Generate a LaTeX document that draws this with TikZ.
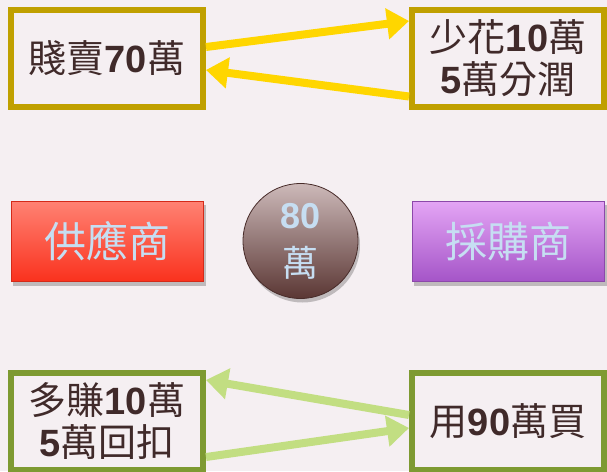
\documentclass[tikz,border=0pt]{standalone}
\usepackage{fontspec}
\setmainfont{Liberation Sans}
\newfontfamily\cjk{Noto Sans CJK TC}
\usetikzlibrary{arrows.meta, backgrounds}
\definecolor{bgColor}{RGB}{245,239,242}
\definecolor{inkColor}{RGB}{64,42,42}
\definecolor{paleBlue}{RGB}{198,222,242}
\definecolor{goldColor}{RGB}{192,160,0}
\definecolor{yellowColor}{RGB}{255,214,0}
\definecolor{oliveColor}{RGB}{126,154,50}
\definecolor{limeColor}{RGB}{194,222,130}
\definecolor{redTop}{RGB}{255,130,115}
\definecolor{redBottom}{RGB}{250,50,30}
\definecolor{purpleTop}{RGB}{228,165,245}
\definecolor{purpleBottom}{RGB}{165,85,200}
\definecolor{coinTop}{RGB}{205,185,185}
\definecolor{coinBottom}{RGB}{90,55,52}
\newcommand{\amt}[1]{{\rmfamily\bfseries #1}}

\begin{document}
\begin{tikzpicture}[x=1pt, y=-1pt,
    note/.style={
        rectangle,
        draw=#1,
        fill=bgColor,
        line width=6pt,
        minimum width=192pt,
        minimum height=97pt,
        inner sep=0pt,
        align=center,
        text=inkColor,
        font=\fontsize{38}{42}\selectfont\cjk
    },
    party/.style 2 args={
        rectangle,
        draw=#2!85!black,
        top color=#1,
        bottom color=#2,
        line width=1pt,
        minimum width=192pt,
        minimum height=80pt,
        text=paleBlue,
        font=\fontsize{42}{46}\selectfont\cjk
    },
    coin/.style={
        circle,
        draw=coinBottom!80!black,
        top color=coinTop,
        bottom color=coinBottom,
        line width=0.8pt,
        minimum size=115pt,
        inner sep=0pt,
        align=center,
        text=paleBlue,
        font=\fontsize{36}{48}\selectfont
    },
    shade/.style={fill=black, opacity=0.22},
    flow/.style={-{Triangle[length=22pt, width=30pt]}, line width=8pt, draw=#1}
]
    \useasboundingbox (0,0) rectangle (607,471);
    \begin{scope}[on background layer]
        \fill[bgColor] (0,0) rectangle (607,471);
    \end{scope}

    % Top row
    \node[note=goldColor] (cheap) at (107,58.5) {賤賣\amt{70}萬};
    \node[note=goldColor] (saving) at (508,58.5) {少花\amt{10}萬\\\amt{5}萬分潤};

    % Middle row
    \node[party={redTop}{redBottom}] (supplier) at (107,241) {供應商};
    \node[coin] (price) at (300.5,241) {\amt{80}\\{\cjk 萬}};
    \node[party={purpleTop}{purpleBottom}] (buyer) at (508,241) {採購商};

    % Shadows
    \begin{scope}[on background layer]
        \fill[shade] ([xshift=2pt,yshift=-4pt]supplier.south west) rectangle ([xshift=2pt,yshift=-4pt]supplier.north east);
        \fill[shade] ([xshift=2pt,yshift=-4pt]buyer.south west) rectangle ([xshift=2pt,yshift=-4pt]buyer.north east);
        \fill[shade] ([xshift=2pt,yshift=-4pt]price.center) circle[radius=57.5];
    \end{scope}

    % Bottom row
    \node[note=oliveColor] (extra) at (107,421.5) {多賺\amt{10}萬\\\amt{5}萬回扣};
    \node[note=oliveColor] (purchase) at (508,421.5) {用\amt{90}萬買};

    % Money flows
    \draw[flow=yellowColor] ([yshift=11.5pt]cheap.east) -- ([yshift=37.5pt]saving.west);
    \draw[flow=yellowColor] ([yshift=-38pt]saving.west) -- ([yshift=-11.5pt]cheap.east);
    \draw[flow=limeColor] ([yshift=6.5pt]purchase.west) -- ([yshift=41.5pt]extra.east);
    \draw[flow=limeColor] ([yshift=-35.5pt]extra.east) -- ([yshift=-6.5pt]purchase.west);

\end{tikzpicture}
\end{document}
